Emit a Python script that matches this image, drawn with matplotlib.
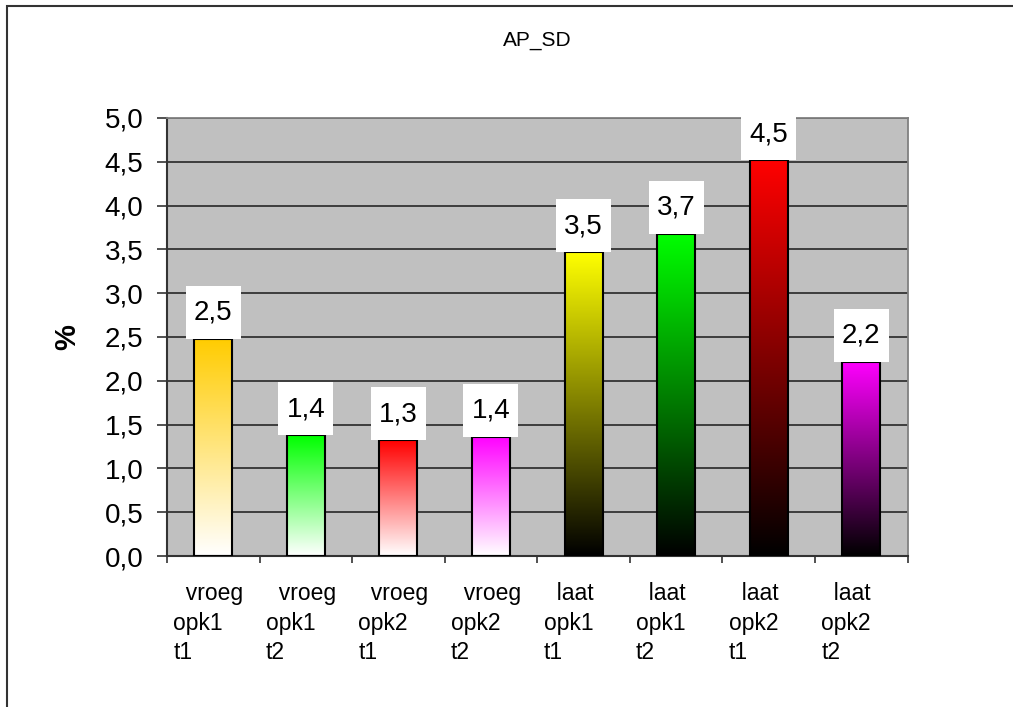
import numpy as np
import matplotlib.pyplot as plt
from matplotlib.colors import to_rgb
from matplotlib.patches import Rectangle

plt.rcParams['font.family'] = ['Liberation Sans', 'DejaVu Sans']

categories = ["vroeg\nopk1\nt1", "vroeg\nopk1\nt2", "vroeg\nopk2\nt1", "vroeg\nopk2\nt2",
              "laat\nopk1\nt1", "laat\nopk1\nt2", "laat\nopk2\nt1", "laat\nopk2\nt2"]
values = [2.48, 1.38, 1.32, 1.36, 3.47, 3.68, 4.52, 2.22]
top_colors = ["#FFCC00", "#00FF00", "#FF0000", "#FF00FF",
              "#FFFF00", "#00FF00", "#FF0000", "#FF00FF"]
bottom_colors = ["#FFFFFF", "#FFFFFF", "#FFFFFF", "#FFFFFF",
                 "#000000", "#000000", "#000000", "#000000"]
yticks = np.arange(0, 5.01, 0.5)

fig = plt.figure(figsize=(10.13, 7.07), dpi=100)
ax = fig.add_axes([167 / 1013, 1 - 556 / 707, 740.5 / 1013, 438 / 707])

# outer chart frame
fig.add_artist(Rectangle((7 / 1013, -0.1), 1.2, 1.1 - 6 / 707, transform=fig.transFigure,
                         fill=False, ec="#333333", lw=1.5))

ax.set_facecolor("#C0C0C0")
ax.set_xlim(0.5, len(values) + 0.5)
ax.set_ylim(0, 5)
ax.set_yticks(yticks)
ax.set_yticklabels([f"{t:.1f}".replace(".", ",") for t in yticks], fontsize=20)
ax.tick_params(axis="y", length=7, width=1.2, pad=10, color="#333333")
ax.set_xticks(np.arange(0.5, len(values) + 1, 1))
ax.set_xticklabels([])
ax.tick_params(axis="x", length=5, width=1.2, color="#333333")
ax.yaxis.grid(True, color="#1a1a1a", lw=1.1)
ax.set_axisbelow(True)
for side in ["top", "right"]:
    ax.spines[side].set_color("#808080")
    ax.spines[side].set_linewidth(1.3)
for side in ["left", "bottom"]:
    ax.spines[side].set_color("#333333")
    ax.spines[side].set_linewidth(1.5)

ax.set_ylabel("%", fontsize=21, fontweight="bold", labelpad=17)
ax.set_title("AP_SD", fontsize=15, pad=52)

# pixel -> data unit conversion for the label boxes
ax_w_px = 740.5
ax_h_px = 438.0
x_per_px = len(values) / ax_w_px
y_per_px = 5 / ax_h_px
box_w = 55 * x_per_px
box_h = 53 * y_per_px

width = 0.41
grad = np.linspace(0, 1, 256)[:, None]
for i, (v, ct, cb) in enumerate(zip(values, top_colors, bottom_colors)):
    x = i + 1
    c_top = np.array(to_rgb(ct))
    c_bot = np.array(to_rgb(cb))
    img = c_bot[None, None, :] * (1 - grad[:, :, None]) + c_top[None, None, :] * grad[:, :, None]
    ax.imshow(img, extent=(x - width / 2, x + width / 2, 0, v), origin="lower",
              aspect="auto", zorder=2)
    ax.bar(x, v, width=width, facecolor="none", edgecolor="black", lw=1.5, zorder=3)
    ax.add_patch(Rectangle((x - box_w / 2, v), box_w, box_h, fc="white", ec="none",
                           zorder=4, clip_on=False))
    ax.text(x, v + 19 * y_per_px, f"{v:.1f}".replace(".", ","), ha="center",
            va="baseline", fontsize=20, zorder=5)

ax.set_xlim(0.5, len(values) + 0.5)
ax.set_ylim(0, 5)

# category labels, first word indented
for i, lab in enumerate(categories):
    first, rest = lab.split("\n", 1)
    ax.annotate("  " + first + "\n" + rest, xy=(i + 0.5, 0), xycoords="data",
                xytext=(4.5, -19), textcoords="offset points", ha="left", va="top",
                fontsize=16.5, linespacing=1.35, annotation_clip=False)

fig.savefig("out.png", dpi=100)
